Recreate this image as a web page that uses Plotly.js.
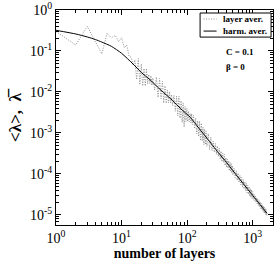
<!DOCTYPE html>
<html><head><meta charset="utf-8">
<script src="https://cdn.plot.ly/plotly-3.0.1.min.js"></script>
<style>html,body{margin:0;padding:0;background:#fff}</style>
</head><body><div id="chart" style="width:274px;height:264px"></div>
<script>
// harmonic average (solid line)
var harmX = [1,2,3,4,5,7,10,15,20,27,40,60,80,112,150,200,300,400,500,700,1000,1300,1650];
var harmY = [0.32,0.26,0.22,0.19,0.165,0.13,0.088,0.048,0.03,0.02,0.011,0.0062,0.0039,0.0024,0.00133,0.00075,0.00033,0.00019,0.00012,6.1e-5,3.0e-5,1.78e-5,1.1e-5];

// layer average (dotted, noisy)
var layerX = [1,2,3,4,5,6,7,8,9,10,11,12,13,14,15,16,17,18,19,20,21,22,23,24,25,26,27,28,29,30,
  32,34,36,38,40,42,44,46,48,50,52,54,56,58,60,
  63,66,69,72,75,78,81,84,87,90,93,96,99,102,105,108,111,114,117,120,
  125,130,135,140,145,150,155,160,165,170,175,180,185,190,195,200,210,220,230,240,250,
  260,270,280,290,300,310,320,330,340,350,360,370,380,390,400,410,420,430,440,450,460,470,480,490,500,
  520,540,560,580,600,620,640,660,680,700,720,740,760,780,800,820,840,860,880,900,920,940,960,980,1000,
  1025,1050,1075,1100,1125,1150,1175,1200,1225,1250,1275,1300,1325,1350,1375,1400,1425,1450,1475,1500,1525,1550,1575,1600,1625,1650];
var layerY = [0.30,0.14,0.40,0.17,0.085,0.27,0.21,0.24,0.17,0.21,0.12,0.14,0.075,0.07,0.045,0.06,0.02,0.065,0.015,0.048,0.014,0.0375,0.014,0.0375,0.0158,0.0266,0.0159,0.025,0.0145,0.0219,
  0.0112,0.023,0.0074,0.0214,0.0069,0.0182,0.0054,0.0141,0.0053,0.0112,0.0054,0.0102,0.0054,0.0086,0.0047,
  0.0082,0.0034,0.0079,0.0026,0.0078,0.0023,0.0061,0.0018,0.0054,0.0014,0.0044,0.0019,0.0040,0.0019,0.0034,0.00188,0.0030,0.00176,0.00295,0.0016,
  0.00275,0.00127,0.0023,0.00095,0.00197,0.00082,0.00195,0.00065,0.00174,0.00064,0.00138,0.00052,0.00124,0.00052,0.00112,0.00047,0.00096,0.00039,0.00079,0.00037,0.00063,
  0.00034,0.00055,0.0003,0.00048,0.00027,0.00042,0.00023,0.00036,0.0002,0.00032,0.00019,0.0003,0.00016,0.00025,0.000144,0.00023,0.000138,0.00021,0.00012,0.00019,0.000115,0.000182,0.000105,0.000159,9.5e-5,
  1.4e-4,8.1e-5,1.2e-4,7.0e-5,1.05e-4,6.2e-5,9.2e-5,5.4e-5,8.2e-5,4.8e-5,7.3e-5,4.3e-5,6.5e-5,3.9e-5,5.9e-5,3.5e-5,5.3e-5,3.2e-5,4.9e-5,2.9e-5,4.4e-5,2.7e-5,4.1e-5,2.5e-5,3.7e-5,
  2.4e-5,3.2e-5,2.2e-5,2.9e-5,2.0e-5,2.65e-5,1.85e-5,2.45e-5,1.7e-5,2.25e-5,1.57e-5,2.1e-5,1.45e-5,1.93e-5,1.35e-5,1.8e-5,1.26e-5,1.67e-5,1.17e-5,1.55e-5,1.1e-5,1.46e-5,1.03e-5,1.37e-5,9.7e-6,1.1e-5];

var seriesNames = ['layer aver.', 'harm. aver.'];
var xTickVals = [1,10,100,1000];
var xTickText = ['10<sup>0</sup>','10<sup>1</sup>','10<sup>2</sup>','10<sup>3</sup>'];
var yTickVals = [1,0.1,0.01,0.001,0.0001,0.00001];
var yTickText = ['10<sup>0</sup>','10<sup>-1</sup>','10<sup>-2</sup>','10<sup>-3</sup>','10<sup>-4</sup>','10<sup>-5</sup>'];
var paramLabels = ['C = 0.1', 'β = 0'];

var serif = 'Liberation Serif, Times New Roman, serif';
var layerLine = {color: '#8c8c8c', width: 1, dash: '1px,1.5px'};
var harmLine = {color: '#000', width: 1};

var traces = [
  {x: layerX, y: layerY, mode: 'lines', name: seriesNames[0], line: layerLine},
  {x: harmX, y: harmY, mode: 'lines', name: seriesNames[1],
   line: Object.assign({shape: 'spline', smoothing: 0.6}, harmLine)}
];

var axisCommon = {
  type: 'log', showgrid: false, zeroline: false,
  showline: true, linecolor: '#000', linewidth: 1, mirror: 'allticks',
  ticks: 'inside', ticklen: 5, tickcolor: '#000', tickwidth: 1,
  tickmode: 'array',
  tickfont: {family: serif, size: 14, color: '#000'},
  minor: {dtick: 'D1', ticks: 'inside', ticklen: 3, tickcolor: '#000', tickwidth: 1, showgrid: false}
};

var smallFont = {family: serif, size: 9, color: '#000', weight: 'bold'};

// compact legend drawn in paper coordinates
var shapes = [
  {type: 'rect', xref: 'paper', yref: 'paper', x0: 0.664, x1: 0.991, y0: 0.874, y1: 0.986,
   line: {color: '#000', width: 1}, fillcolor: '#fff', layer: 'above'},
  {type: 'line', xref: 'paper', yref: 'paper', x0: 0.68, x1: 0.74, y0: 0.958, y1: 0.958,
   line: layerLine, layer: 'above'},
  {type: 'line', xref: 'paper', yref: 'paper', x0: 0.68, x1: 0.74, y0: 0.902, y1: 0.902,
   line: harmLine, layer: 'above'}
];

var annotations = [
  {xref: 'paper', yref: 'paper', x: 0.76, y: 0.958, xanchor: 'left', yanchor: 'middle', showarrow: false,
   text: seriesNames[0], font: smallFont},
  {xref: 'paper', yref: 'paper', x: 0.76, y: 0.902, xanchor: 'left', yanchor: 'middle', showarrow: false,
   text: seriesNames[1], font: smallFont},
  {xref: 'paper', yref: 'paper', x: 0.775, y: 0.805, xanchor: 'left', yanchor: 'middle', showarrow: false,
   text: paramLabels[0], font: smallFont},
  {xref: 'paper', yref: 'paper', x: 0.775, y: 0.735, xanchor: 'left', yanchor: 'middle', showarrow: false,
   text: paramLabels[1], font: smallFont}
];

var layout = {
  width: 274, height: 264,
  margin: {l: 56, r: 1, t: 10, b: 39},
  paper_bgcolor: '#fff', plot_bgcolor: '#fff',
  showlegend: false,
  xaxis: Object.assign({}, axisCommon, {
    range: [0, 3.31], tickvals: xTickVals, ticktext: xTickText,
    title: {text: 'number of layers', font: {family: serif, size: 14, color: '#000', weight: 'bold'}, standoff: 1}
  }),
  yaxis: Object.assign({}, axisCommon, {
    range: [-5.245, 0], tickvals: yTickVals, ticktext: yTickText,
    title: {text: '&lt;λ&gt;,  λ\u0305', font: {family: serif, size: 17, color: '#000', weight: 'bold'}, standoff: 4}
  }),
  shapes: shapes,
  annotations: annotations
};

Plotly.newPlot('chart', traces, layout, {staticPlot: true, displayModeBar: false});
</script>
</body></html>
